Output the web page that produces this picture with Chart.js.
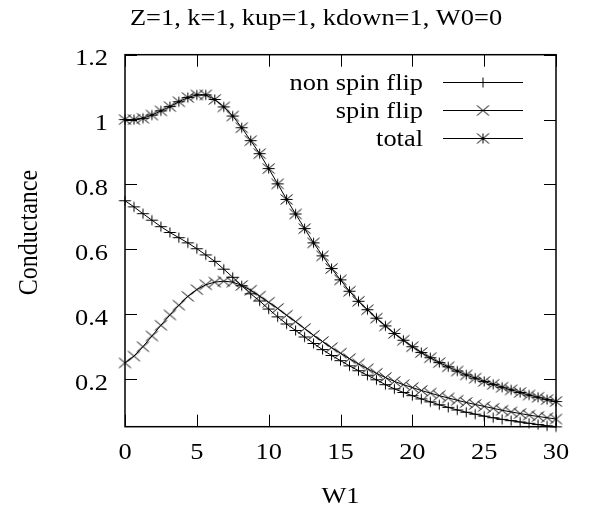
<!DOCTYPE html>
<html><head><meta charset="utf-8">
<script src="https://cdn.jsdelivr.net/npm/chart.js@4/dist/chart.umd.min.js"></script>
<style>html,body{margin:0;padding:0;background:#fff}#wrap{width:589px;height:516px}</style>
</head><body><div id="wrap"><canvas id="c" width="589" height="516"></canvas></div>
<script>
const titleText = 'Z=1, k=1, kup=1, kdown=1, W0=0';
const xLabel = 'W1';
const yLabel = 'Conductance';
const seriesNames = ['non spin flip', 'spin flip', 'total'];
const w1 = [0,0.625,1.25,1.875,2.5,3.125,3.75,4.375,5,5.625,6.25,6.875,7.5,8.125,8.75,9.375,10,10.625,11.25,11.875,12.5,13.125,13.75,14.375,15,15.625,16.25,16.875,17.5,18.125,18.75,19.375,20,20.625,21.25,21.875,22.5,23.125,23.75,24.375,25,25.625,26.25,26.875,27.5,28.125,28.75,29.375,30];
const nonSpinFlip = [0.750,0.731,0.710,0.690,0.670,0.652,0.636,0.620,0.602,0.583,0.563,0.539,0.514,0.488,0.463,0.441,0.416,0.392,0.370,0.350,0.330,0.310,0.291,0.273,0.257,0.241,0.226,0.212,0.198,0.183,0.170,0.159,0.149,0.139,0.130,0.121,0.113,0.105,0.098,0.092,0.086,0.081,0.076,0.072,0.068,0.064,0.060,0.056,0.053];
const spinFlip = [0.250,0.271,0.300,0.333,0.366,0.398,0.428,0.455,0.476,0.491,0.499,0.502,0.499,0.489,0.474,0.456,0.437,0.418,0.397,0.377,0.356,0.335,0.316,0.297,0.280,0.263,0.247,0.232,0.218,0.205,0.193,0.183,0.174,0.165,0.157,0.149,0.142,0.135,0.128,0.122,0.116,0.110,0.104,0.099,0.094,0.089,0.085,0.081,0.077];
const total = [1.000,1.000,1.004,1.014,1.027,1.040,1.055,1.068,1.076,1.076,1.062,1.039,1.011,0.975,0.935,0.895,0.849,0.802,0.754,0.709,0.664,0.620,0.580,0.541,0.506,0.471,0.440,0.414,0.388,0.364,0.341,0.320,0.300,0.282,0.266,0.251,0.238,0.225,0.213,0.203,0.193,0.184,0.175,0.167,0.159,0.151,0.144,0.137,0.131];
const xTicks = [0,5,10,15,20,25,30];
const yTicks = [0.2,0.4,0.6,0.8,1,1.2];

const FONT = '24px "Liberation Serif"';
const STRETCH = 1.1;

function marker(plus, cross, sx, sy, dx, dy) {
  const size = 2 * Math.max(sx, sy, dx, dy) + 3;
  const c = document.createElement('canvas');
  c.width = size; c.height = size;
  const g = c.getContext('2d');
  const m = size / 2;
  g.strokeStyle = '#000';
  g.lineWidth = 1;
  g.beginPath();
  if (plus) { g.moveTo(m - sx, m); g.lineTo(m + sx, m); g.moveTo(m, m - sy); g.lineTo(m, m + sy); }
  if (cross) { g.moveTo(m - dx, m - dy); g.lineTo(m + dx, m + dy); g.moveTo(m - dx, m + dy); g.lineTo(m + dx, m - dy); }
  g.stroke();
  return c;
}
const markers = [marker(true, false, 6, 5, 0, 0), marker(false, true, 0, 0, 6, 5), marker(true, true, 6, 5, 6, 5)];

const seriesData = [nonSpinFlip, spinFlip, total];
const datasets = seriesData.map((arr, k) => ({
  label: seriesNames[k],
  data: w1.map((x, i) => ({ x: x, y: arr[i] })),
  borderColor: '#000',
  backgroundColor: '#000',
  borderWidth: 1,
  pointStyle: markers[k],
  pointRadius: 6,
  tension: 0,
  clip: false
}));

function sText(ctx, text, x, y, align) {
  ctx.save();
  ctx.translate(x, y);
  ctx.scale(STRETCH, 1);
  ctx.textAlign = align;
  ctx.textBaseline = 'alphabetic';
  ctx.fillText(text, 0, 0);
  ctx.restore();
}

const framePlugin = {
  id: 'frame',
  afterDraw(chart) {
    const ctx = chart.ctx;
    const a = chart.chartArea;
    const xs = chart.scales.x, ys = chart.scales.y;
    ctx.save();
    ctx.strokeStyle = '#000';
    ctx.fillStyle = '#000';
    ctx.lineWidth = 1;
    ctx.beginPath();
    const tl = 12;
    xTicks.forEach(v => {
      const p = Math.round(xs.getPixelForValue(v)) + 0.5;
      ctx.moveTo(p, a.bottom); ctx.lineTo(p, a.bottom - tl);
      ctx.moveTo(p, a.top); ctx.lineTo(p, a.top + tl);
    });
    yTicks.forEach(v => {
      const p = Math.round(ys.getPixelForValue(v)) + 0.5;
      ctx.moveTo(a.left, p); ctx.lineTo(a.left + tl, p);
      ctx.moveTo(a.right, p); ctx.lineTo(a.right - tl, p);
    });
    ctx.stroke();
    ctx.lineWidth = 1.5;
    ctx.strokeRect(a.left, a.top, a.right - a.left, a.bottom - a.top);

    ctx.font = FONT;
    xTicks.forEach(v => sText(ctx, String(v), xs.getPixelForValue(v), a.bottom + 32, 'center'));
    yTicks.forEach(v => sText(ctx, String(v), a.left - 17, ys.getPixelForValue(v) + 10.5, 'right'));
    sText(ctx, titleText, 316, 25, 'center');
    sText(ctx, xLabel, (a.left + a.right) / 2, 503, 'center');
    ctx.save();
    ctx.translate(37, 232.5);
    ctx.rotate(-Math.PI / 2);
    ctx.scale(1, STRETCH);
    ctx.textAlign = 'center';
    ctx.textBaseline = 'alphabetic';
    ctx.fillText(yLabel, 0, 0);
    ctx.restore();
    const rows = [82, 110, 138];
    chart.data.datasets.forEach((ds, k) => {
      const y = rows[k];
      sText(ctx, ds.label, 423, y + 8, 'right');
      ctx.lineWidth = 1;
      ctx.beginPath();
      ctx.moveTo(443, y + 0.5); ctx.lineTo(523, y + 0.5);
      ctx.stroke();
      const img = markers[k];
      ctx.drawImage(img, 483 - img.width / 2, y + 0.5 - img.height / 2);
    });
    ctx.restore();
  }
};

new Chart(document.getElementById('c'), {
  type: 'line',
  data: { datasets: datasets },
  options: {
    responsive: false,
    animation: false,
    devicePixelRatio: 1,
    layout: { padding: { top: 54.7, right: 33, bottom: 0, left: 0 } },
    plugins: { legend: { display: false }, tooltip: { enabled: false }, title: { display: false } },
    scales: {
      x: {
        type: 'linear', min: 0, max: 30,
        afterBuildTicks: s => { s.ticks = xTicks.map(v => ({ value: v })); },
        afterFit: s => { s.height = 89.3; },
        grid: { display: false, drawTicks: false },
        border: { display: false },
        ticks: { display: false }
      },
      y: {
        type: 'linear', min: 0.0534, max: 1.2,
        afterBuildTicks: s => { s.ticks = yTicks.map(v => ({ value: v })); },
        afterFit: s => { s.width = 125; },
        grid: { display: false, drawTicks: false },
        border: { display: false },
        ticks: { display: false }
      }
    }
  },
  plugins: [framePlugin]
});
</script>
</body></html>
